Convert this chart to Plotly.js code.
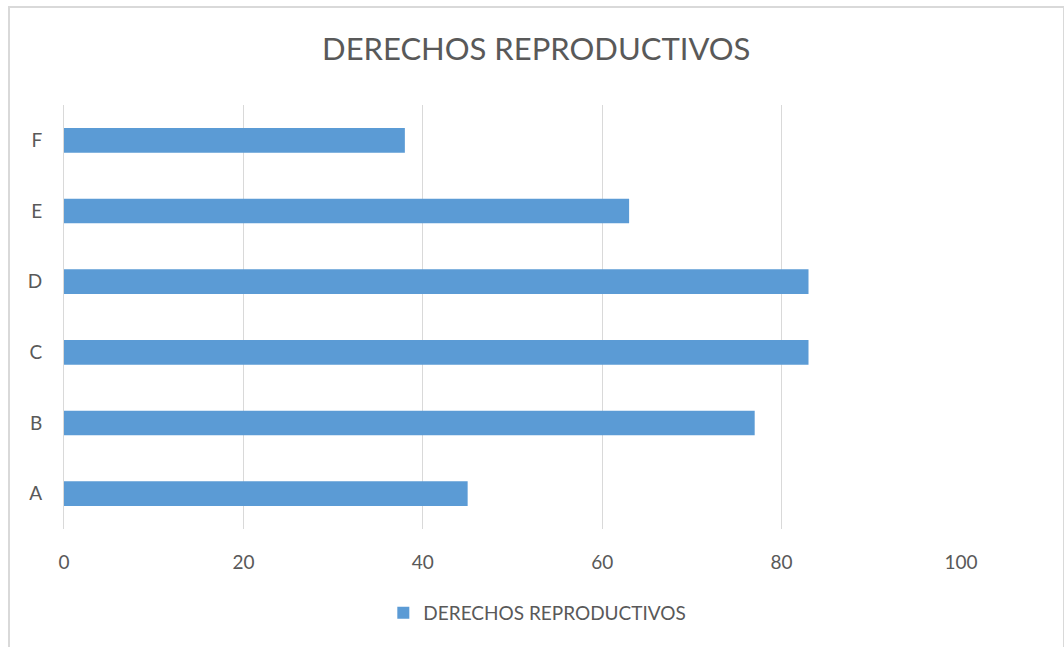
<!DOCTYPE html>
<html>
<head>
<meta charset="utf-8">
<script src="https://cdn.plot.ly/plotly-3.0.1.min.js"></script>
<style>
  html, body { margin: 0; padding: 0; background: #ffffff; }
  #wrap { position: relative; width: 1064px; height: 647px; overflow: hidden; }
  #chart { position: absolute; left: 0; top: 0; width: 1064px; height: 647px; }
  #frame { position: absolute; left: 8px; top: 6px; width: 1053px; height: 660px;
           border: 2px solid #d9d9d9; pointer-events: none; }
</style>
</head>
<body>
<div id="wrap">
  <div id="chart"></div>
  <div id="frame"></div>
</div>
<script>
// Survey results per group
const categories = ['A', 'B', 'C', 'D', 'E', 'F'];
const values = [45, 77, 83, 83, 63, 38];
const seriesName = 'DERECHOS REPRODUCTIVOS';
const xTicks = [0, 20, 40, 60, 80, 100];

const textColor = '#595959';
const fontFamily = 'Lato, "Open Sans", sans-serif';

const trace = {
  type: 'bar',
  orientation: 'h',
  y: categories,
  x: values,
  name: seriesName,
  marker: { color: '#5b9bd5' },
  showlegend: true,
  hoverinfo: 'x+y'
};

const layout = {
  width: 1064,
  height: 647,
  paper_bgcolor: 'rgba(0,0,0,0)',
  plot_bgcolor: 'rgba(0,0,0,0)',
  margin: { l: 64, r: 103, t: 105, b: 118 },
  font: { family: fontFamily, color: textColor, size: 19 },
  title: {
    text: 'DERECHOS REPRODUCTIVOS',
    font: { family: fontFamily, size: 31, color: textColor },
    xref: 'container', x: 0.504, xanchor: 'center',
    yref: 'container', y: 1 - 49 / 647, yanchor: 'middle'
  },
  bargap: 0.65,
  xaxis: {
    range: [0, 100],
    tickvals: xTicks,
    ticktext: xTicks.map(String),
    showgrid: true,
    gridcolor: '#d9d9d9',
    gridwidth: 1,
    zeroline: false,
    showline: false,
    ticks: 'outside',
    ticklen: 16,
    tickcolor: 'rgba(0,0,0,0)',
    tickfont: { size: 19, color: textColor },
    fixedrange: true
  },
  yaxis: {
    type: 'category',
    categoryorder: 'array',
    categoryarray: categories,
    range: [-0.5, 5.5],
    showgrid: false,
    zeroline: false,
    showline: true,
    linecolor: '#d9d9d9',
    linewidth: 1,
    ticks: 'outside',
    ticklen: 17,
    tickcolor: 'rgba(0,0,0,0)',
    tickfont: { size: 19, color: textColor },
    fixedrange: true
  },
  legend: {
    orientation: 'h',
    xref: 'container', x: 0.505, xanchor: 'center',
    yref: 'container', y: 1 - 613 / 647, yanchor: 'middle',
    font: { size: 19, color: textColor },
    itemwidth: 30,
    bgcolor: 'rgba(0,0,0,0)'
  },
  showlegend: true
};

Plotly.newPlot('chart', [trace], layout, { displayModeBar: false, staticPlot: true });
</script>
</body>
</html>
